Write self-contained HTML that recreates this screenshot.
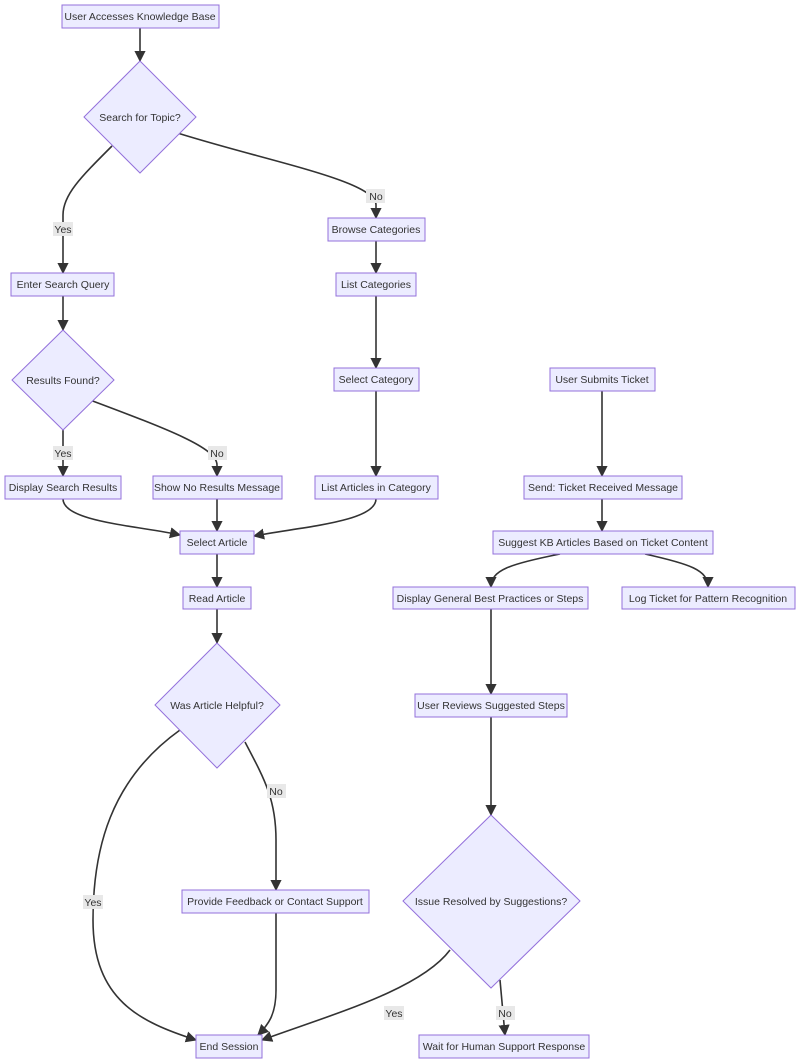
<!DOCTYPE html>
<html><head><meta charset="utf-8"><style>
html,body{margin:0;padding:0;background:#fff;}
svg{display:block;font-family:"Liberation Sans",sans-serif;}
.n{fill:#ECECFF;stroke:#9370DB;stroke-width:1;}
.e{fill:none;stroke:#333;stroke-width:1.6;marker-end:url(#a);}
text{font-size:10.5px;fill:#333;text-anchor:middle;dominant-baseline:central;}
.lb{fill:#e8e8e8;}
</style></head><body>
<svg width="800" height="1064" viewBox="0 0 800 1064">
<defs><marker id="a" viewBox="0 0 10 10" refX="9" refY="5" markerWidth="7" markerHeight="7" orient="auto"><path d="M0,0L10,5L0,10z" fill="#333"/></marker></defs>
<g>
<path class="e" d="M140,28L140,61"/>
<path class="e" d="M112,146C80,178 63,195 63,215L63,273"/>
<path class="e" d="M168,130C260,160 376,180 376,205L376,218"/>
<path class="e" d="M376,241L376,273"/>
<path class="e" d="M376,296L376,368"/>
<path class="e" d="M63,296L63,330"/>
<path class="e" d="M63,430L63,476"/>
<path class="e" d="M90,400C170,430 217,448 217,465L217,476"/>
<path class="e" d="M376,391L376,476"/>
<path class="e" d="M602,391L602,476"/>
<path class="e" d="M63,499C63,522 140,526 180,535"/>
<path class="e" d="M217,499L217,531"/>
<path class="e" d="M376,499C376,522 300,527 254,536"/>
<path class="e" d="M602,499L602,531"/>
<path class="e" d="M217,554L217,587"/>
<path class="e" d="M560,554C510,564 491,570 491,587"/>
<path class="e" d="M645,554C690,564 708,570 708,587"/>
<path class="e" d="M217,609L217,643"/>
<path class="e" d="M491,609L491,694"/>
<path class="e" d="M180,730C110,780 93,850 93,920C93,1000 140,1022 196,1040"/>
<path class="e" d="M245,742C265,780 276,800 276,840L276,890"/>
<path class="e" d="M276,913L276,990C276,1015 268,1025 258,1035"/>
<path class="e" d="M491,717L491,815"/>
<path class="e" d="M450,950C420,990 330,1015 262,1040"/>
<path class="e" d="M500,980L505,1035"/>
</g>
<g>
<rect class="lb" x="366" y="189" width="19" height="14"/><text x="376" y="197">No</text>
<rect class="lb" x="53" y="222" width="20" height="14"/><text x="63" y="230">Yes</text>
<rect class="lb" x="53" y="446" width="20" height="14"/><text x="63" y="454">Yes</text>
<rect class="lb" x="208" y="446" width="19" height="14"/><text x="217" y="454">No</text>
<rect class="lb" x="267" y="784" width="19" height="14"/><text x="276" y="792">No</text>
<rect class="lb" x="83" y="895" width="20" height="14"/><text x="93" y="903">Yes</text>
<rect class="lb" x="384" y="1006" width="20" height="14"/><text x="394" y="1014">Yes</text>
<rect class="lb" x="496" y="1006" width="19" height="14"/><text x="505" y="1014">No</text>
</g>
<g>
<rect class="n" x="62" y="5" width="157" height="23"/><text x="140" y="17">User Accesses Knowledge Base</text>
<polygon class="n" points="140,61 196,117 140,173 84,117"/><text x="140" y="118">Search for Topic?</text>
<rect class="n" x="328" y="218" width="97" height="23"/><text x="376" y="230">Browse Categories</text>
<rect class="n" x="11" y="273" width="103" height="23"/><text x="63" y="285">Enter Search Query</text>
<rect class="n" x="336" y="273" width="80" height="23"/><text x="376" y="285">List Categories</text>
<polygon class="n" points="63,330 114,380 63,430 12,380"/><text x="63" y="381">Results Found?</text>
<rect class="n" x="334" y="368" width="85" height="23"/><text x="376" y="380">Select Category</text>
<rect class="n" x="550" y="368" width="105" height="23"/><text x="602" y="380">User Submits Ticket</text>
<rect class="n" x="5" y="476" width="116" height="23"/><text x="63" y="488">Display Search Results</text>
<rect class="n" x="153" y="476" width="129" height="23"/><text x="217" y="488">Show No Results Message</text>
<rect class="n" x="315" y="476" width="123" height="23"/><text x="376" y="488">List Articles in Category</text>
<rect class="n" x="524" y="476" width="158" height="23"/><text x="603" y="488">Send: Ticket Received Message</text>
<rect class="n" x="180" y="531" width="74" height="23"/><text x="217" y="543">Select Article</text>
<rect class="n" x="493" y="531" width="220" height="23"/><text x="603" y="543">Suggest KB Articles Based on Ticket Content</text>
<rect class="n" x="183" y="587" width="68" height="22"/><text x="217" y="599">Read Article</text>
<rect class="n" x="393" y="587" width="195" height="22"/><text x="490" y="599">Display General Best Practices or Steps</text>
<rect class="n" x="622" y="587" width="173" height="22"/><text x="708" y="599">Log Ticket for Pattern Recognition</text>
<polygon class="n" points="217,643 280,705 217,768 155,705"/><text x="217" y="706">Was Article Helpful?</text>
<rect class="n" x="415" y="694" width="152" height="23"/><text x="491" y="706">User Reviews Suggested Steps</text>
<rect class="n" x="182" y="890" width="187" height="23"/><text x="275" y="902">Provide Feedback or Contact Support</text>
<polygon class="n" points="491,815 580,901 491,988 403,901"/><text x="491" y="902">Issue Resolved by Suggestions?</text>
<rect class="n" x="196" y="1035" width="66" height="23"/><text x="229" y="1047">End Session</text>
<rect class="n" x="419" y="1035" width="170" height="23"/><text x="504" y="1047">Wait for Human Support Response</text>
</g>
</svg>
</body></html>
